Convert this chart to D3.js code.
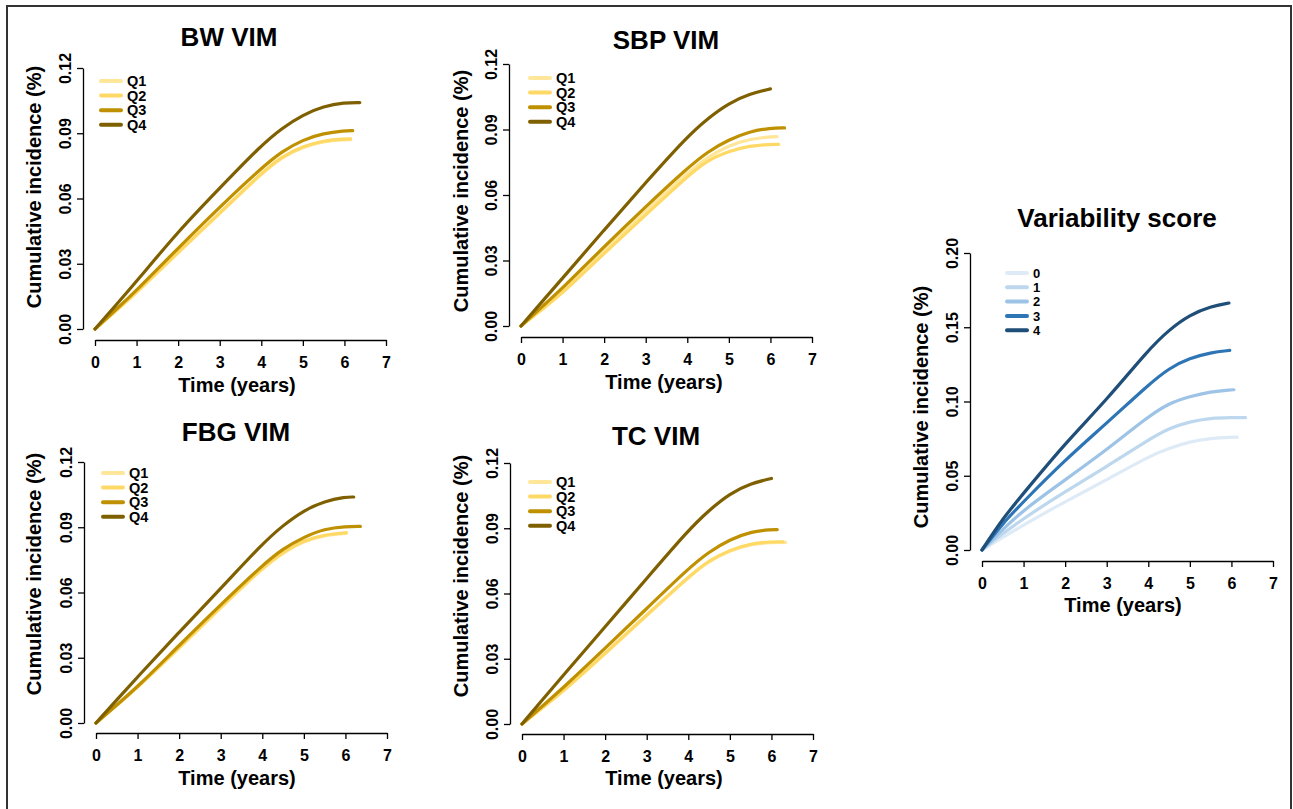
<!DOCTYPE html>
<html>
<head>
<meta charset="utf-8">
<script src="https://cdn.jsdelivr.net/npm/d3@7"></script>
<style>
  html, body { margin: 0; padding: 0; background: #fff; }
  svg text { font-family: "Liberation Sans", Arial, Helvetica, sans-serif; font-weight: bold; fill: #000; }
</style>
</head>
<body>
<svg id="chart" width="1293" height="809"></svg>
<script>
// ---------- DATA ----------
const timeGrid = [0, 0.5, 1, 2, 3, 4, 4.5, 5, 5.5, 6];
const xTicks = [0, 1, 2, 3, 4, 5, 6, 7];
const yTicksQ = [0, 0.03, 0.06, 0.09, 0.12];
const yTickLabelsQ = ["0.00", "0.03", "0.06", "0.09", "0.12"];
const yTicksScore = [0, 0.05, 0.10, 0.15, 0.20];
const yTickLabelsScore = ["0.00", "0.05", "0.10", "0.15", "0.20"];

const quartileNames = ["Q1", "Q2", "Q3", "Q4"];
const scoreNames = ["0", "1", "2", "3", "4"];
const quartileColors = ["#FFE699", "#FFD966", "#BF9000", "#7F6000"];
const scoreColors = ["#DEEBF7", "#BDD7EE", "#9DC3E6", "#2E75B6", "#1F4E79"];

// BW VIM
const bwQ1 = [0, 0.0082, 0.0166, 0.0351, 0.0530, 0.0714, 0.0791, 0.0837, 0.0863, 0.0871];
const bwQ2 = [0, 0.0084, 0.0169, 0.0354, 0.0533, 0.0717, 0.0794, 0.0840, 0.0866, 0.0874];
const bwQ3 = [0, 0.0088, 0.0178, 0.0372, 0.0561, 0.0740, 0.0817, 0.0870, 0.0900, 0.0912];
const bwQ4 = [0, 0.0109, 0.0219, 0.0449, 0.0648, 0.0845, 0.0924, 0.0985, 0.1024, 0.1041];
const bwEnd = [6.15, 6.15, 6.2, 6.37];

// SBP VIM
const sbpQ1 = [0, 0.0079, 0.0158, 0.0346, 0.0525, 0.0700, 0.0775, 0.0827, 0.0856, 0.0867];
const sbpQ2 = [0, 0.0075, 0.0150, 0.0333, 0.0509, 0.0685, 0.0761, 0.0800, 0.0826, 0.0832];
const sbpQ3 = [0, 0.0087, 0.0173, 0.0364, 0.0547, 0.0723, 0.0800, 0.0853, 0.0891, 0.0907];
const sbpQ4 = [0, 0.0110, 0.0219, 0.0440, 0.0657, 0.0868, 0.0952, 0.1021, 0.1063, 0.1086];
const sbpEnd = [6.16, 6.2, 6.34, 6.0];

// FBG VIM
const fbgQ1 = [0, 0.0082, 0.0163, 0.0343, 0.0530, 0.0711, 0.0783, 0.0837, 0.0863, 0.0872];
const fbgQ2 = [0, 0.0083, 0.0165, 0.0346, 0.0533, 0.0714, 0.0786, 0.0840, 0.0866, 0.0875];
const fbgQ3 = [0, 0.0083, 0.0166, 0.0357, 0.0544, 0.0725, 0.0802, 0.0855, 0.0893, 0.0904];
const fbgQ4 = [0, 0.0106, 0.0212, 0.0418, 0.0618, 0.0824, 0.0909, 0.0978, 0.1020, 0.1039];
const fbgEnd = [6.02, 6.02, 6.36, 6.2];

// TC VIM
const tcQ1 = [0, 0.0075, 0.0151, 0.0322, 0.0498, 0.0674, 0.0750, 0.0797, 0.0827, 0.0835];
const tcQ2 = [0, 0.0077, 0.0153, 0.0325, 0.0501, 0.0677, 0.0753, 0.0800, 0.0830, 0.0838];
const tcQ3 = [0, 0.0084, 0.0168, 0.0348, 0.0531, 0.0715, 0.0792, 0.0848, 0.0884, 0.0894];
const tcQ4 = [0, 0.0113, 0.0225, 0.0447, 0.0669, 0.0891, 0.0983, 0.1060, 0.1106, 0.1129];
const tcEnd = [6.34, 6.28, 6.14, 6.0];

// Variability score
const vs0 = [0, 0.0085, 0.0169, 0.0326, 0.0472, 0.0629, 0.0685, 0.0730, 0.0753, 0.0760];
const vs1 = [0, 0.0110, 0.0213, 0.0393, 0.0562, 0.0742, 0.0820, 0.0865, 0.0888, 0.0892];
const vs2 = [0, 0.0138, 0.0270, 0.0472, 0.0674, 0.0899, 0.0989, 0.1034, 0.1067, 0.1079];
const vs3 = [0, 0.0180, 0.0326, 0.0607, 0.0854, 0.1112, 0.1225, 0.1292, 0.1330, 0.1344];
const vs4 = [0, 0.0213, 0.0382, 0.0719, 0.1011, 0.1348, 0.1483, 0.1584, 0.1640, 0.1663];
const vsEnd = [6.14, 6.34, 6.06, 5.96, 5.94];

// ---------- LAYOUT ----------
const panels = [
  { title: "BW VIM", series: [bwQ1, bwQ2, bwQ3, bwQ4], ends: bwEnd, names: quartileNames, colors: quartileColors,
    yTicks: yTicksQ, yLabels: yTickLabelsQ, yMax: 0.12,
    x0: 95, x1: 386, yb: 329, yt: 68, axX: 83, axY: 340,
    titleX: 229, titleY: 46, ylabX: 34, ylabY: 187, xlabX: 237, xlabY: 392, legX: 101, legY: 81 },
  { title: "SBP VIM", series: [sbpQ1, sbpQ2, sbpQ3, sbpQ4], ends: sbpEnd, names: quartileNames, colors: quartileColors,
    yTicks: yTicksQ, yLabels: yTickLabelsQ, yMax: 0.12,
    x0: 521, x1: 812, yb: 326, yt: 64, axX: 509, axY: 337,
    titleX: 666, titleY: 49, ylabX: 461, ylabY: 191, xlabX: 664, xlabY: 389, legX: 530, legY: 78 },
  { title: "FBG VIM", series: [fbgQ1, fbgQ2, fbgQ3, fbgQ4], ends: fbgEnd, names: quartileNames, colors: quartileColors,
    yTicks: yTicksQ, yLabels: yTickLabelsQ, yMax: 0.12,
    x0: 96, x1: 387, yb: 723, yt: 462, axX: 84, axY: 733,
    titleX: 236, titleY: 441, ylabX: 34, ylabY: 574, xlabX: 237, xlabY: 785, legX: 103, legY: 473 },
  { title: "TC VIM", series: [tcQ1, tcQ2, tcQ3, tcQ4], ends: tcEnd, names: quartileNames, colors: quartileColors,
    yTicks: yTicksQ, yLabels: yTickLabelsQ, yMax: 0.12,
    x0: 522, x1: 813, yb: 724, yt: 463, axX: 510, axY: 734,
    titleX: 656, titleY: 445, ylabX: 461, ylabY: 576, xlabX: 664, xlabY: 785, legX: 530, legY: 482 },
  { title: "Variability score", series: [vs0, vs1, vs2, vs3, vs4], ends: vsEnd, names: scoreNames, colors: scoreColors,
    yTicks: yTicksScore, yLabels: yTickLabelsScore, yMax: 0.20,
    x0: 982, x1: 1273, yb: 550, yt: 253, axX: 970, axY: 561,
    titleX: 1117, titleY: 227, ylabX: 921, ylabY: 407, xlabX: 1123, xlabY: 612, legX: 1007, legY: 273 }
];

const svg = d3.select("#chart");

// outer frame (left, top, right)
svg.append("path")
  .attr("d", "M7,809 L7,6 L1291,6 L1291,809")
  .attr("fill", "none").attr("stroke", "#333").attr("stroke-width", 2);

panels.forEach(p => {
  const g = svg.append("g");
  const x = d3.scaleLinear().domain([0, 7]).range([p.x0, p.x1]);
  const y = d3.scaleLinear().domain([0, p.yMax]).range([p.yb, p.yt]);

  // x axis
  const gx = g.append("g").attr("transform", `translate(0,${p.axY})`)
    .call(d3.axisBottom(x).tickValues(xTicks).tickFormat(d3.format("d")).tickSize(6).tickSizeOuter(0));
  gx.select(".domain").attr("stroke", "#000").attr("stroke-width", 1.3);
  gx.selectAll(".tick line").attr("stroke", "#000").attr("stroke-width", 1.3);
  gx.selectAll(".tick text").attr("y", 22).attr("dy", "0.36em")
    .style("font-size", "16px").style("font-family", "'Liberation Sans', Arial, sans-serif").style("font-weight", "bold");

  // y axis
  const gy = g.append("g").attr("transform", `translate(${p.axX},0)`)
    .call(d3.axisLeft(y).tickValues(p.yTicks).tickFormat((d, i) => p.yLabels[i]).tickSize(6).tickSizeOuter(0));
  gy.select(".domain").attr("stroke", "#000").attr("stroke-width", 1.3);
  gy.selectAll(".tick line").attr("stroke", "#000").attr("stroke-width", 1.3);
  gy.selectAll(".tick text")
    .attr("x", 0).attr("y", 0).attr("dy", "0.36em")
    .attr("text-anchor", "middle")
    .attr("transform", "translate(-18,0) rotate(-90)")
    .style("font-size", "16px").style("font-family", "'Liberation Sans', Arial, sans-serif").style("font-weight", "bold");

  // title
  g.append("text").attr("x", p.titleX).attr("y", p.titleY).attr("text-anchor", "middle")
    .style("font-size", "26px").text(p.title);
  // axis labels
  g.append("text").attr("x", p.xlabX).attr("y", p.xlabY).attr("text-anchor", "middle")
    .style("font-size", "20px").text("Time (years)");
  g.append("text").attr("transform", `translate(${p.ylabX + 7},${p.ylabY}) rotate(-90)`)
    .attr("text-anchor", "middle").style("font-size", "20px").text("Cumulative incidence (%)");

  // curves
  const line = d3.line().x(d => x(d[0])).y(d => y(d[1])).curve(d3.curveBasis);
  p.series.forEach((vals, i) => {
    const end = p.ends[i];
    let pts = timeGrid.map((t, k) => [t, vals[k]]);
    if (end >= 6.05) {
      pts.push([end, vals[vals.length - 1]]);
    } else {
      pts[pts.length - 1] = [end, vals[vals.length - 1]];
    }
    g.append("path").datum(pts).attr("d", line)
      .attr("fill", "none").attr("stroke", p.colors[i])
      .attr("stroke-width", 3.2).attr("stroke-linecap", "round").attr("stroke-linejoin", "round");
  });

  // legend
  const isScore = p.names.length === 5;
  const step = isScore ? 14.3 : 14.6;
  const fs = isScore ? 13 : 14.5;
  p.names.forEach((name, i) => {
    const ly = p.legY + i * step;
    g.append("line").attr("x1", p.legX).attr("x2", p.legX + 20).attr("y1", ly).attr("y2", ly)
      .attr("stroke", p.colors[i]).attr("stroke-width", 4).attr("stroke-linecap", "round");
    g.append("text").attr("x", p.legX + 26).attr("y", ly).attr("dy", "0.36em")
      .style("font-size", fs + "px").text(name);
  });
});
</script>
</body>
</html>
